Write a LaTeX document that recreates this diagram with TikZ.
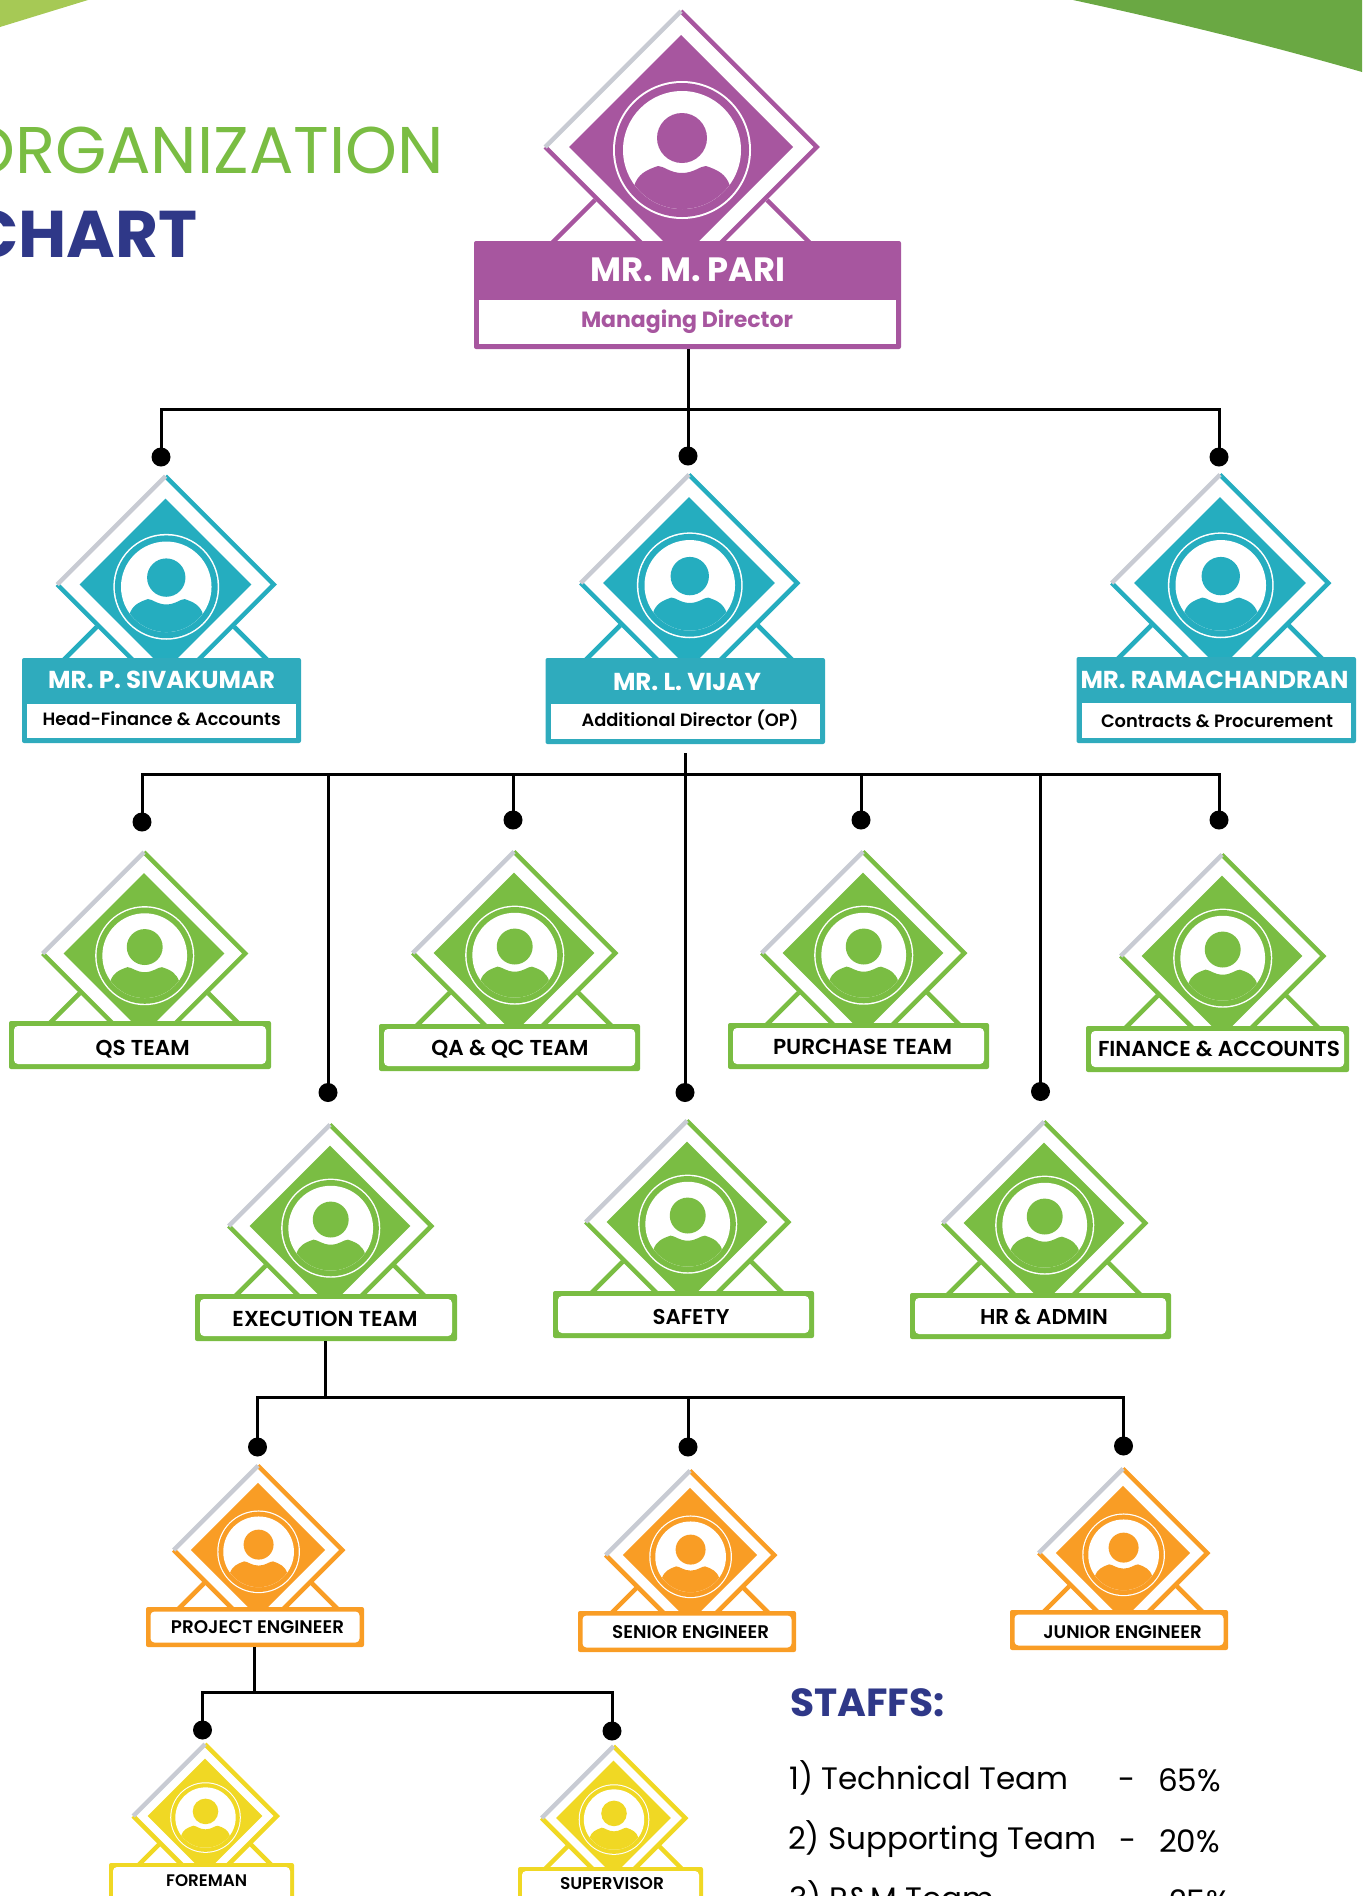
\documentclass[tikz,border=0pt]{standalone}
\usepackage{graphicx}
\usepackage{fontspec}
\usetikzlibrary{fit}
\setmainfont{Poppins}
\newfontfamily\popsb{Poppins SemiBold}
\definecolor{cpur}{HTML}{A7569F}
\definecolor{ctea}{HTML}{25ADBF}
\definecolor{chead}{HTML}{2FABBD}
\definecolor{cgre}{HTML}{7ABD43}
\definecolor{cora}{HTML}{F99D25}
\definecolor{cyel}{HTML}{F0D824}
\definecolor{cnav}{HTML}{2F3888}
\definecolor{cgry}{HTML}{C8CBD3}
\definecolor{ctl}{HTML}{A6C955}
\definecolor{ctr}{HTML}{6AA843}
\tikzset{
  x=0.5pt,y=-0.5pt,
  wire/.style={draw=black,line width=1.5pt},
  pin/.style={circle,fill=black,inner sep=0pt,minimum size=9.5pt},
  boxo/.style={inner sep=0pt,rounded corners=1pt,draw=none},
  txt/.style={inner sep=0pt,outer sep=0pt},
}
% diamond emblem: id, cx, cy, half diagonal to the tip, colour, size of the core
\newcommand{\emblem}[6]{%
  \pgfmathsetmacro{\embs}{#4/137}
  \pgfmathsetmacro{\embo}{(#4-1.2)/\embs}
  \begin{scope}[shift={(#2,#3)},scale=\embs]
    \draw[#5,line width=2.25pt,line cap=butt] (-86,53) -- (-137,104);
    \draw[#5,line width=2.25pt,line cap=butt] (86,53) -- (137,104);
    \draw[#5,line width=2.25pt,line join=miter] (0,-\embo) -- (\embo,0) -- (0,\embo) -- (-\embo,0);
    \draw[cgry,line width=2.25pt,line cap=butt] (-\embo,0) -- (0,-\embo);
    \begin{scope}[scale=#6]
    \fill[#5] (0,-112) -- (112,0) -- (0,112) -- (-112,0) -- cycle;
    \fill[white] (1,3) circle[radius=69];
    \fill[#5] (1,3) circle[radius=67];
    \fill[white] (1,3) circle[radius=59];
    \begin{scope}
      \clip (1,3) circle[radius=59];
      \fill[#5] (1,-9) circle[radius=25];
      \fill[#5] (-47,39) .. controls (-43,27) and (-35,23) .. (-23,19)
        .. controls (-17,19) and (-11,26) .. (1,26)
        .. controls (13,26) and (19,19) .. (25,19)
        .. controls (37,23) and (45,27) .. (49,39)
        -- (71,70) -- (-69,70) -- cycle;
    \end{scope}
    \end{scope}
  \end{scope}}
% header label box: id, x1, y1, x2, y2, ysplit, border, colour
\newcommand{\headbox}[8]{%
  \coordinate (#1a) at (#2,#3); \coordinate (#1b) at (#4,#5);
  \coordinate (#1c) at ({#2+#7},#6); \coordinate (#1d) at ({#4-#7},{#5-#7});
  \node[boxo,fill=#8,fit=(#1a)(#1b)] (#1) {};
  \node[inner sep=0pt,fill=white,fit=(#1c)(#1d)] (#1in) {};}
% plain label box: id, x1, y1, x2, y2, border, colour
\newcommand{\plainbox}[7]{%
  \coordinate (#1a) at (#2,#3); \coordinate (#1b) at (#4,#5);
  \coordinate (#1c) at ({#2+#6},{#3+#6}); \coordinate (#1d) at ({#4-#6},{#5-#6});
  \node[boxo,fill=#7,fit=(#1a)(#1b)] (#1) {};
  \node[inner sep=0pt,rounded corners=2pt,fill=white,fit=(#1c)(#1d)] (#1in) {};}
% text fitted to a width (px), centred on its capitals: id, x, y, width, colour, font, text
\newcommand{\lbl}[7]{%
  \pgfmathsetmacro{\lblw}{#4*0.5}
  \node[txt,text=#5] (#1) at (#2,#3) {\resizebox{\lblw pt}{!}{\fontsize{12pt}{12pt}\selectfont#6\smash{#7}\rule[-0.15em]{0pt}{1em}}};}
\begin{document}
\begin{tikzpicture}
\useasboundingbox (0,0) rectangle (1362,1896);
\begin{scope}
\clip (0,0) rectangle (1362,1896);
% corners
\fill[ctl] (0,0) -- (88,0) -- (0,27) -- cycle;
\fill[ctr] (1073,0) .. controls (1170,21) and (1265,44) .. (1362,72) -- (1362,0) -- cycle;
% title
\node[txt,anchor=base east,text=cgre,font=\fontsize{33pt}{33pt}\selectfont] (title1) at (444,173) {ORGANIZATION};
\node[txt,anchor=base east,text=cnav,font=\bfseries\fontsize{33pt}{33pt}\selectfont] (title2) at (197.5,257) {CHART};
% emblems
\emblem{e1}{681}{147}{137}{cpur}{1}
\emblem{e2}{165.5}{584.5}{109.5}{ctea}{.96}
\emblem{e3}{689}{583}{109.5}{ctea}{.96}
\emblem{e4}{1220}{583}{109.5}{ctea}{.96}
\emblem{e5}{144}{953.5}{102.5}{cgre}{.96}
\emblem{e6}{514}{953}{102.5}{cgre}{.96}
\emblem{e7}{863}{953}{102.5}{cgre}{.96}
\emblem{e8}{1222}{956}{102.5}{cgre}{.96}
\emblem{e9}{330}{1226}{102.5}{cgre}{.96}
\emblem{e10}{687}{1222}{102.5}{cgre}{.96}
\emblem{e11}{1044}{1223}{102.5}{cgre}{.96}
\emblem{e12}{258}{1550}{85.5}{cora}{.96}
\emblem{e13}{690}{1555}{85.5}{cora}{.96}
\emblem{e14}{1123}{1553}{85.5}{cora}{.96}
\emblem{e15}{205}{1816}{73}{cyel}{.96}
\emblem{e16}{613.5}{1818}{73}{cyel}{.96}
% label boxes
\headbox{b1}{474}{241}{901}{349}{300}{5}{cpur}
\headbox{b2}{22}{658}{301}{743}{704}{5}{chead}
\headbox{b3}{545.5}{658}{825}{744}{704}{5}{chead}
\headbox{b4}{1076.5}{657}{1356}{743}{703}{5}{chead}
\plainbox{b5}{9}{1021}{271}{1069}{5}{cgre}
\plainbox{b6}{379}{1024}{640}{1071}{5}{cgre}
\plainbox{b7}{728}{1023}{989}{1069}{5}{cgre}
\plainbox{b8}{1086}{1026}{1349}{1072}{5}{cgre}
\plainbox{b9}{195}{1294}{457}{1341}{5}{cgre}
\plainbox{b10}{553}{1291}{814}{1338}{5}{cgre}
\plainbox{b11}{910}{1293}{1171}{1339}{5}{cgre}
\plainbox{b12}{146}{1607}{364}{1647}{4.5}{cora}
\plainbox{b13}{578}{1611}{796}{1652}{4.5}{cora}
\plainbox{b14}{1010}{1610}{1228}{1650}{4.5}{cora}
\plainbox{b15}{109}{1863}{294}{1905}{4}{cyel}
\plainbox{b16}{518}{1867}{703}{1909}{4}{cyel}
% label text
\lbl{t1}{688}{270}{195}{white}{\bfseries}{MR. M. PARI}
\lbl{t1s}{687}{320}{212}{cpur}{\bfseries}{Managing Director}
\lbl{t2}{161.7}{680}{227}{white}{\bfseries}{MR. P. SIVAKUMAR}
\lbl{t2s}{161.7}{719}{238}{black}{\popsb}{Head-Finance \& Accounts}
\lbl{t3}{687}{682}{148}{white}{\bfseries}{MR. L. VIJAY}
\lbl{t3s}{690}{720}{217}{black}{\popsb}{Additional Director (OP)}
\lbl{t4}{1214.5}{680}{268}{white}{\bfseries}{MR. RAMACHANDRAN}
\lbl{t4s}{1217}{721}{232}{black}{\popsb}{Contracts \& Procurement}
\lbl{t5}{142.7}{1048}{94}{black}{\popsb}{QS TEAM}
\lbl{t6}{510}{1048}{157}{black}{\popsb}{QA \& QC TEAM}
\lbl{t7}{862.5}{1047}{179}{black}{\popsb}{PURCHASE TEAM}
\lbl{t8}{1219}{1049}{242}{black}{\popsb}{FINANCE \& ACCOUNTS}
\lbl{t9}{325}{1319}{185}{black}{\popsb}{EXECUTION TEAM}
\lbl{t10}{691}{1317}{77}{black}{\popsb}{SAFETY}
\lbl{t11}{1044}{1317}{128}{black}{\popsb}{HR \& ADMIN}
\lbl{t12}{257.5}{1627}{173}{black}{\popsb}{PROJECT ENGINEER}
\lbl{t13}{690.7}{1632}{157}{black}{\popsb}{SENIOR ENGINEER}
\lbl{t14}{1122.5}{1632}{158.5}{black}{\popsb}{JUNIOR ENGINEER}
\lbl{t15}{206.7}{1881}{81}{black}{\popsb}{FOREMAN}
\lbl{t16}{612}{1884}{104}{black}{\popsb}{SUPERVISOR}
% pins
\node[pin] (p1) at (161,457) {};
\node[pin] (p2) at (688,456) {};
\node[pin] (p3) at (1219,457) {};
\node[pin] (p4) at (142,822) {};
\node[pin] (p5) at (328,1092.5) {};
\node[pin] (p6) at (513,820) {};
\node[pin] (p7) at (685,1092.5) {};
\node[pin] (p8) at (861,820) {};
\node[pin] (p9) at (1040.5,1091.5) {};
\node[pin] (p10) at (1219,820) {};
\node[pin] (p11) at (257.5,1447) {};
\node[pin] (p12) at (688,1447) {};
\node[pin] (p13) at (1123.5,1446) {};
\node[pin] (p14) at (202.5,1730) {};
\node[pin] (p15) at (612,1731) {};
% bus junctions
\coordinate (h1) at (688,409);
\coordinate (h2) at (685,774);
\coordinate (h3) at (325.5,1397);
\coordinate (h4) at (254,1692);
\coordinate (s2) at (685,753);
\coordinate (s3) at (325.5,1341);
\coordinate (s4) at (254,1647);
% connectors
\draw[wire] (b1.south -| p2) -- (p2.center);
\draw[wire] (p1.center) |- (h1) -| (p3.center);
\draw[wire] (s2) -- (p7.center);
\draw[wire] (p4.center) |- (h2) -| (p10.center);
\draw[wire] (p5.center |- h2) -- (p5.center);
\draw[wire] (p6.center |- h2) -- (p6.center);
\draw[wire] (p8.center |- h2) -- (p8.center);
\draw[wire] (p9.center |- h2) -- (p9.center);
\draw[wire] (s3) -- (h3);
\draw[wire] (p11.center) |- (h3) -| (p13.center);
\draw[wire] (p12.center |- h3) -- (p12.center);
\draw[wire] (s4) -- (h4);
\draw[wire] (p14.center) |- (h4) -| (p15.center);
% staffs
\node[txt,anchor=base west,text=cnav,font=\bfseries\fontsize{19.6pt}{19.6pt}\selectfont] (st0) at (790,1716) {STAFFS:};
\tikzset{stf/.style={txt,anchor=base west,text=black,font=\fontsize{15.5pt}{15.5pt}\selectfont}}
\node[stf] (st1) at (789.5,1789) {1) Technical Team};
\node[stf] (st1d) at (1118,1790) {-};
\node[stf] (st1p) at (1158,1791) {65\%};
\node[stf] (st2) at (788,1849) {2) Supporting Team};
\node[stf] (st2d) at (1119,1851) {-};
\node[stf] (st2p) at (1159,1852) {20\%};
\node[stf] (st3) at (789,1909) {3) P\&M Team};
\node[stf] (st3d) at (1119,1912) {-};
\node[stf] (st3p) at (1169,1912) {25\%};
\end{scope}
\end{tikzpicture}
\end{document}
